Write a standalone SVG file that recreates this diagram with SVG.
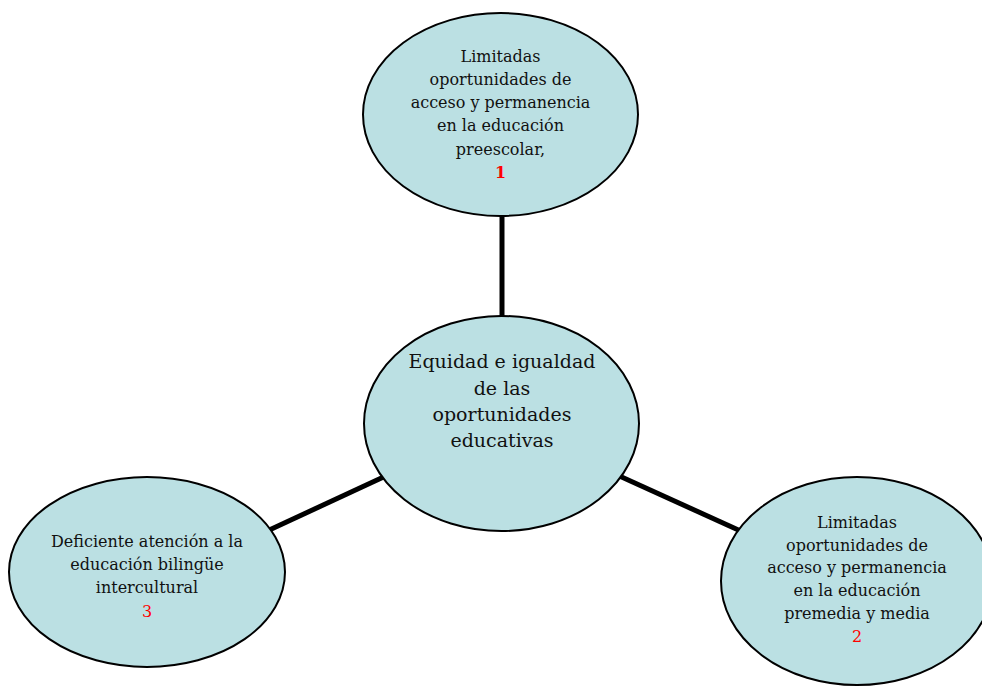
<svg xmlns="http://www.w3.org/2000/svg" width="982" height="686" viewBox="0 0 982 686">
<style>
.node{fill:#BBE0E3;stroke:#000;stroke-width:2}
.conn{stroke:#000;stroke-width:5;fill:none}
.t{font-family:"DejaVu Serif","Liberation Serif",serif;font-size:16px;fill:#111;text-anchor:middle}
.tc{font-size:19px}
.num{fill:#FF0000}
.b{font-weight:bold}
</style>
<rect width="982" height="686" fill="#fff"/>
<g id="connectors">
<line class="conn" x1="502" y1="210" x2="502" y2="322"/>
<line class="conn" x1="265" y1="532" x2="390" y2="474"/>
<line class="conn" x1="615" y1="474" x2="745" y2="533"/>
</g>
<g id="node-top">
<ellipse class="node" cx="500.5" cy="114.5" rx="137.5" ry="101.5"/>
<text class="t" x="500.5" y="62">Limitadas</text>
<text class="t" x="500.5" y="85">oportunidades de</text>
<text class="t" x="500.5" y="108">acceso y permanencia</text>
<text class="t" x="500.5" y="131">en la educación</text>
<text class="t" x="500.5" y="155">preescolar,</text>
<text class="t num b" x="500.5" y="178">1</text>
</g>
<g id="node-center">
<ellipse class="node" cx="501.5" cy="423.5" rx="137.5" ry="107.5"/>
<text class="t tc" x="502" y="368">Equidad e igualdad</text>
<text class="t tc" x="502" y="395">de las</text>
<text class="t tc" x="502" y="421">oportunidades</text>
<text class="t tc" x="502" y="447">educativas</text>
</g>
<g id="node-left">
<ellipse class="node" cx="147" cy="572" rx="138" ry="95"/>
<text class="t" x="147" y="547">Deficiente atención a la</text>
<text class="t" x="147" y="570">educación bilingüe</text>
<text class="t" x="147" y="593">intercultural</text>
<text class="t num" x="147" y="617">3</text>
</g>
<g id="node-right">
<ellipse class="node" cx="857" cy="581" rx="136" ry="104"/>
<text class="t" x="857" y="528">Limitadas</text>
<text class="t" x="857" y="551">oportunidades de</text>
<text class="t" x="857" y="573">acceso y permanencia</text>
<text class="t" x="857" y="596">en la educación</text>
<text class="t" x="857" y="619">premedia y media</text>
<text class="t num" x="857" y="642">2</text>
</g>
</svg>
